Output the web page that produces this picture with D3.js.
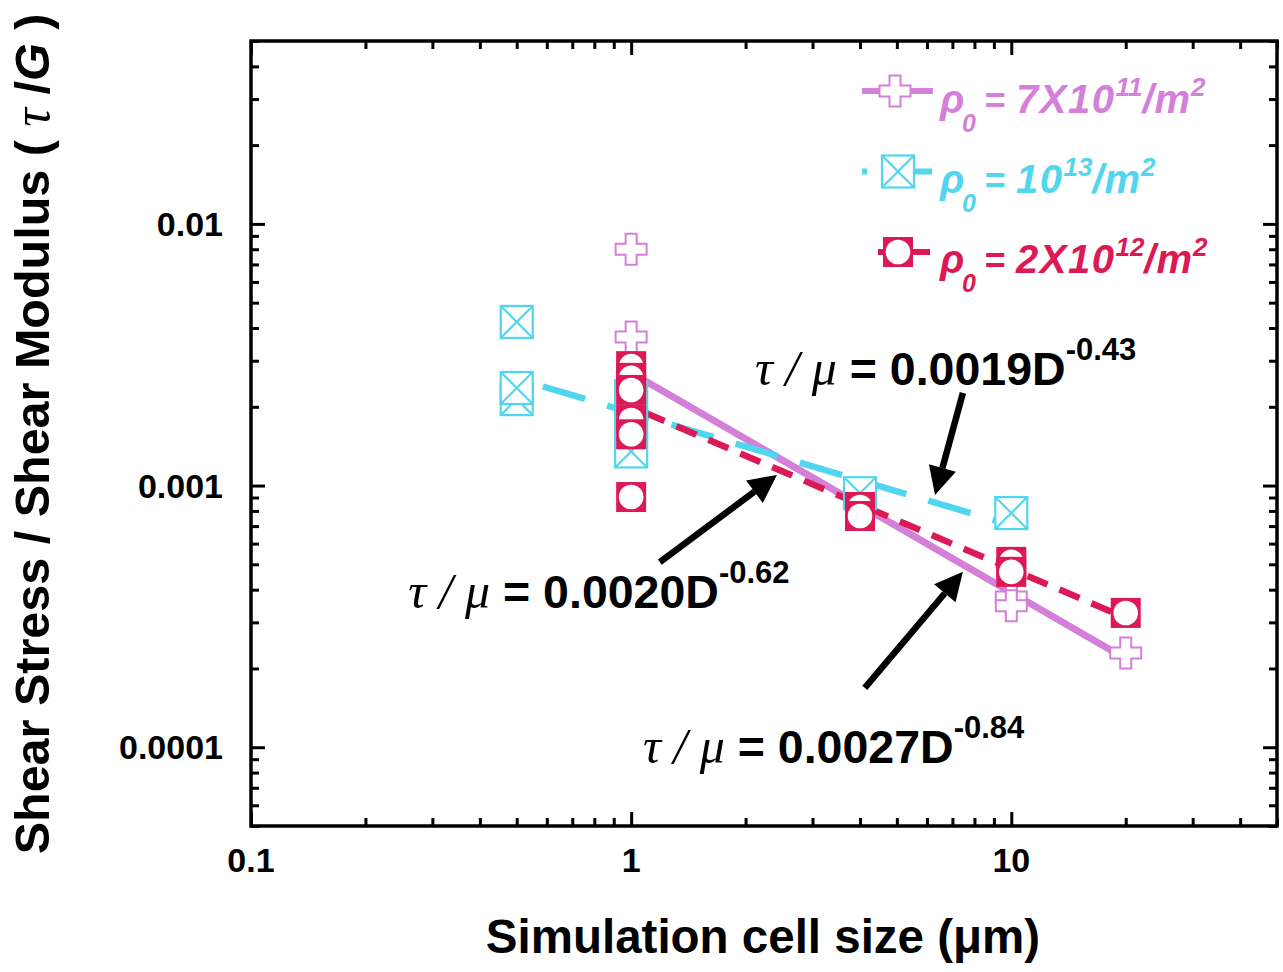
<!DOCTYPE html>
<html>
<head>
<meta charset="utf-8">
<script src="https://cdn.jsdelivr.net/npm/d3@7"></script>
<style>
  body { margin: 0; background: #fff; }
  svg { display: block; font-family: "Liberation Sans", Arial, sans-serif; }
</style>
</head>
<body>
<svg id="chart" width="1283" height="972"></svg>
<script>
"use strict";

// cell size D (um) vs tau/G, one array per initial dislocation density
const lowRho = [            // rho0 = 7X10^11/m^2
  [1, 0.0080], [1, 0.0037],
  [10, 0.000375], [10, 0.000347],
  [20, 0.000229]
];
const highRho = [           // rho0 = 10^13/m^2
  [0.5, 0.00422], [0.5, 0.00214], [0.5, 0.00236],
  [1, 0.00135], [1, 0.00172], [1, 0.0022],
  [4, 0.000935],
  [10, 0.000785]
];
const midRho = [            // rho0 = 2X10^12/m^2
  [1, 0.00286], [1, 0.00258], [1, 0.00232], [1, 0.00178], [1, 0.00157], [1, 0.000904],
  [4, 0.000828], [4, 0.000765],
  [10, 0.000511], [10, 0.000468],
  [20, 0.000326]
];

// power law fits tau/mu = A * D^b and the D range each one is drawn over
const fitCoef = [0.0027, 0.0019, 0.0020];
const fitExp = [-0.84, -0.43, -0.62];
const fitRange = [[1, 20], [0.5, 10], [1, 20]];
const fitText = ["0.0027", "0.0019", "0.0020"];
const fitExpText = ["-0.84", "-0.43", "-0.62"];

// where the equation labels sit and what their arrows point at (data coords)
const labelAt = [[1.074, 0.0000871], [2.117, 0.002424], [0.2592, 0.0003406]];
const arrowFrom = [[4.118, 0.0001686], [7.46, 0.00226], [1.19, 0.000510]];
const arrowTo = [[7.46, 0.000468], [6.30, 0.00092], [2.418, 0.001098]];

const legendMant = ["7X10", "10", "2X10"];
const legendPow = ["11", "13", "12"];

const xTickLabels = [0.1, 1, 10];
const yTickLabels = [0.01, 0.001, 0.0001];

const pink = "#d47fd8", cyan = "#52d5ef", red = "#dc1955";
const serif = "'Liberation Serif', 'Times New Roman', serif";

const svg = d3.select("#chart");
const plotL = 251, plotR = 1277, plotT = 41, plotB = 826;

const x = d3.scaleLog().domain([0.1, 50]).range([plotL, plotR]);
const y = d3.scaleLog().domain([5e-5, 0.05]).range([plotB, plotT]);

const isMajor = v => Math.abs(Math.log10(v) - Math.round(Math.log10(v))) < 1e-6;

// ticks on all four sides, pointing in
function frameAxis(axis, scale, tr, attr) {
  const g = svg.append("g")
    .attr("transform", tr)
    .call(axis(scale).tickSize(-8).tickSizeOuter(0).tickFormat(""));
  g.select(".domain").remove();
  g.selectAll(".tick line")
    .attr("stroke", "#000")
    .attr("stroke-width", 3)
    .attr(attr, function(d) {
      const v = +d3.select(this).attr(attr);
      return isMajor(d) ? v * 14 / 8 : v;
    });
}
frameAxis(d3.axisBottom, x, `translate(0,${plotB})`, "y2");
frameAxis(d3.axisTop, x, `translate(0,${plotT})`, "y2");
frameAxis(d3.axisLeft, y, `translate(${plotL},0)`, "x2");
frameAxis(d3.axisRight, y, `translate(${plotR},0)`, "x2");

svg.append("rect")
  .attr("x", plotL).attr("y", plotT)
  .attr("width", plotR - plotL).attr("height", plotB - plotT)
  .attr("fill", "none").attr("stroke", "#000").attr("stroke-width", 3.5);

svg.selectAll(".xlab").data(xTickLabels).enter().append("text")
  .attr("x", d => x(d)).attr("y", plotB + 46)
  .attr("text-anchor", "middle").attr("font-size", 34).attr("font-weight", "bold")
  .text(d => d);

svg.selectAll(".ylab").data(yTickLabels).enter().append("text")
  .attr("x", plotL - 28).attr("y", d => y(d) + 12)
  .attr("text-anchor", "end").attr("font-size", 34).attr("font-weight", "bold")
  .text(d => d);

// axis titles
svg.append("text")
  .attr("x", 763).attr("y", 953)
  .attr("text-anchor", "middle").attr("font-size", 47.5).attr("font-weight", "bold")
  .text("Simulation cell size (\u03bcm)");

const yt = svg.append("text")
  .attr("transform", "translate(49,434) rotate(-90)")
  .attr("text-anchor", "middle").attr("font-size", 48.5).attr("font-weight", "bold");
yt.append("tspan").text("Shear Stress / Shear Modulus ( ");
yt.append("tspan").attr("font-family", serif).attr("font-style", "italic").attr("font-weight", "normal").attr("font-size", 52).text("\u03c4");
yt.append("tspan").text(" /");
yt.append("tspan").attr("font-style", "italic").text("G");
yt.append("tspan").text(" )");

// fit lines
const line = d3.line().x(d => x(d[0])).y(d => y(d[1]));
const fitStyle = [
  { color: pink, dash: null, offset: 0, w: 7 },
  { color: cyan, dash: "44,23", offset: 39.7, w: 6.5 },
  { color: red, dash: "21.7,13", offset: 20.1, w: 6.5 }
];
fitCoef.forEach((A, i) => {
  const pts = fitRange[i].map(D => [D, A * Math.pow(D, fitExp[i])]);
  svg.append("path")
    .attr("d", line(pts))
    .attr("fill", "none")
    .attr("stroke", fitStyle[i].color)
    .attr("stroke-width", fitStyle[i].w)
    .attr("stroke-dasharray", fitStyle[i].dash)
    .attr("stroke-dashoffset", fitStyle[i].offset);
});

// markers
function plusMark(g) {
  const h = 15.5, a = 5.5;
  g.append("path")
    .attr("d", `M${-a},${-h}H${a}V${-a}H${h}V${a}H${a}V${h}H${-a}V${a}H${-h}V${-a}H${-a}Z`)
    .attr("fill", "#fff").attr("stroke", pink).attr("stroke-width", 2);
}
function crossBoxMark(g) {
  const h = 16;
  g.append("rect").attr("x", -h).attr("y", -h).attr("width", 2 * h).attr("height", 2 * h)
    .attr("fill", "#fff").attr("stroke", cyan).attr("stroke-width", 2.2);
  g.append("path").attr("d", `M${-h},${-h}L${h},${h}M${h},${-h}L${-h},${h}`)
    .attr("stroke", cyan).attr("stroke-width", 2.2);
}
function circleBoxMark(g) {
  const h = 15;
  g.append("rect").attr("x", -h).attr("y", -h).attr("width", 2 * h).attr("height", 2 * h)
    .attr("fill", red);
  g.append("circle").attr("r", 12.3).attr("fill", "#fff");
}

function drawSeries(data, mark) {
  svg.append("g").selectAll("g").data(data).enter().append("g")
    .attr("transform", d => `translate(${x(d[0])},${y(d[1])})`)
    .each(function() { mark(d3.select(this)); });
}
drawSeries(lowRho, plusMark);
drawSeries(highRho, crossBoxMark);
drawSeries(midRho, circleBoxMark);

// equation labels with arrows
labelAt.forEach((p, i) => {
  const t = svg.append("text")
    .attr("x", x(p[0])).attr("y", y(p[1]))
    .attr("font-size", 46.5).attr("font-weight", "bold").attr("fill", "#000");
  t.append("tspan").attr("font-family", serif).attr("font-style", "italic")
    .attr("font-weight", "normal").attr("font-size", 50).text("\u03c4 / \u03bc");
  t.append("tspan").text(" = " + fitText[i] + "D");
  t.append("tspan").attr("font-size", 31).attr("dy", -25).text(fitExpText[i]);

  const x0 = x(arrowFrom[i][0]), y0 = y(arrowFrom[i][1]);
  const x1 = x(arrowTo[i][0]), y1 = y(arrowTo[i][1]);
  const ang = Math.atan2(y1 - y0, x1 - x0);
  const len = 28, hw = 14;
  const bx = x1 - len * Math.cos(ang), by = y1 - len * Math.sin(ang);
  svg.append("line")
    .attr("x1", x0).attr("y1", y0).attr("x2", bx).attr("y2", by)
    .attr("stroke", "#000").attr("stroke-width", 6.5);
  const px = -Math.sin(ang), py = Math.cos(ang);
  svg.append("path")
    .attr("d", `M${x1},${y1}L${bx + hw * px},${by + hw * py}L${bx - hw * px},${by - hw * py}Z`)
    .attr("fill", "#000");
});

// legend
const legendColor = [pink, cyan, red];
const legendMark = [plusMark, crossBoxMark, circleBoxMark];
const legendLine = [[862, 933, null, 0], [862, 932, "44,23", 39], [878, 930, "22,13", 0]];
legendMant.forEach((m, i) => {
  const cy = 91 + i * 80.5, base = 113 + i * 80;
  const c = legendColor[i];
  svg.append("line")
    .attr("x1", legendLine[i][0]).attr("x2", legendLine[i][1])
    .attr("y1", cy).attr("y2", cy)
    .attr("stroke", c).attr("stroke-width", 6)
    .attr("stroke-dasharray", legendLine[i][2])
    .attr("stroke-dashoffset", legendLine[i][3]);
  legendMark[i](svg.append("g").attr("transform", `translate(${i === 0 ? 895 : 898},${cy})`));

  const t = svg.append("text")
    .attr("x", 940).attr("y", base)
    .attr("fill", c).attr("font-weight", "bold").attr("font-style", "italic")
    .attr("font-size", 40);
  t.append("tspan").text("\u03c1");
  t.append("tspan").attr("x", 962).attr("dy", 19).attr("font-size", 25).text("0");
  t.append("tspan").attr("x", 984).attr("dy", -19).attr("font-size", 36).text("=");
  t.append("tspan").attr("x", 1016).attr("letter-spacing", 1.5).text(m);
  t.append("tspan").attr("font-size", 26).attr("dy", -17).text(legendPow[i]);
  t.append("tspan").attr("dy", 17).attr("letter-spacing", 1).text("/m");
  t.append("tspan").attr("font-size", 26).attr("dy", -17).text("2");
});
</script>
</body>
</html>
